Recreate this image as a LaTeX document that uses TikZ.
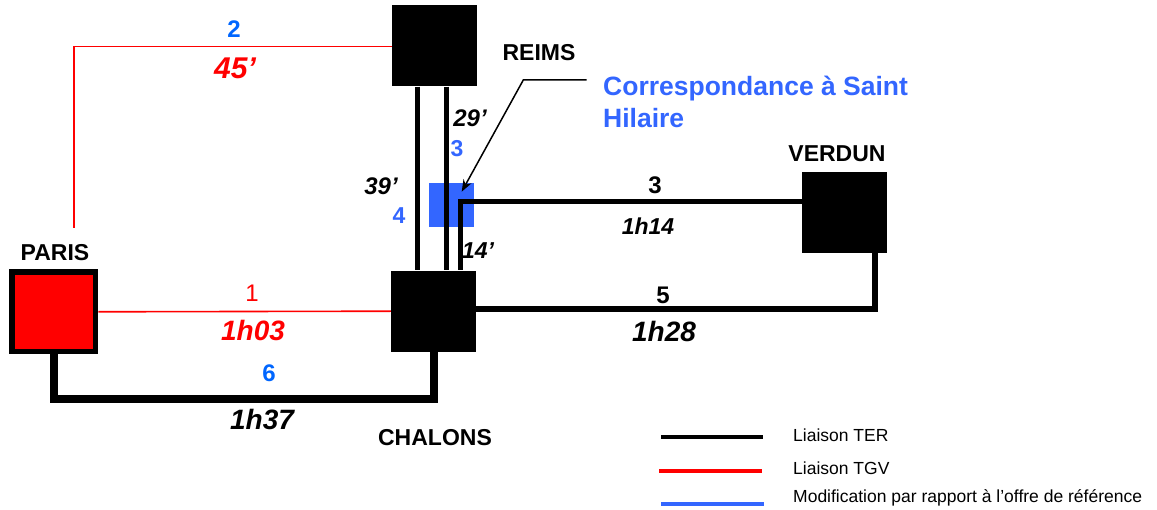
\documentclass[tikz,border=0pt]{standalone}
\usepackage{fontspec}
\setmainfont{Liberation Sans}
\usetikzlibrary{arrows.meta,backgrounds}
\definecolor{tgvred}{HTML}{FF0000}
\definecolor{modblue}{HTML}{3366FF}
\definecolor{numblue}{HTML}{0066FF}
\tikzset{
  city/.style={fill=black, inner sep=0pt, minimum width=85pt, minimum height=81pt},
  ter/.style={line width=5pt},
  terthick/.style={line width=8pt},
  tgv/.style={draw=tgvred, line width=1.6pt},
  lab/.style={anchor=base, inner sep=0pt},
  cityname/.style={lab, font=\bfseries\fontsize{23}{27}\selectfont},
  num/.style={lab, font=\bfseries\fontsize{24}{28}\selectfont},
  tim/.style={lab, font=\bfseries\itshape\fontsize{#1}{#1}\selectfont},
  leg/.style={anchor=base west, inner sep=0pt, font=\fontsize{17.5}{20}\selectfont},
  legline/.style={line width=4pt},
}
\begin{document}
\begin{tikzpicture}[x=1pt,y=-1pt]
\useasboundingbox (0,0) rectangle (1157,510);

% city boxes
\node[city] (reims) at (434.5,46) {};
\node[city] (chalons) at (433.5,311.2) {};
\node[city] (verdun) at (844.5,212.5) {};
\node[draw=black, fill=tgvred, line width=5.5pt, inner sep=0pt,
      minimum width=83.5pt, minimum height=79.5pt] (paris) at (53.8,311.8) {};

% helper coordinates
\coordinate (xa) at (417.7,0);
\coordinate (xb) at (446,0);
\coordinate (s3) at (460.7,202);
\coordinate (v5) at (875,309);
\coordinate (c6) at (433.5,399);
\coordinate (p2) at (74,228);

\begin{pgfonlayer}{background}
  \node[fill=modblue, inner sep=0pt, minimum width=45pt, minimum height=44pt] (sth) at (451.5,205) {};
  % TGV links
  \draw[tgv] (reims.west |- 0,46.7) -| (p2);
  \draw[tgv] (paris.east) -- (chalons.west);
  % TER links
  \draw[ter] (reims.south -| xa) -- (chalons.north -| xa);
  \draw[ter] (reims.south -| xb) -- (chalons.north -| xb);
  \draw[ter] (verdun.west |- s3) -| (chalons.north -| s3);
  \draw[ter, line width=5.5pt] (chalons.east |- v5) -| (verdun.south -| v5);
  \draw[terthick] (paris.south) |- (c6) -- (chalons.south);
\end{pgfonlayer}

% city names
\node[cityname] (nreims) at (539,60.2) {REIMS};
\node[cityname] (nverdun) at (837,161.2) {VERDUN};
\node[cityname] (nparis) at (55,260.2) {PARIS};
\node[cityname] (nchalons) at (435,445.2) {CHALONS};

% labels
\node[num, text=numblue] (l2) at (234,37.6) {2};
\node[tim=30, text=tgvred] (t2) at (235,78.7) {45’};
\node[tim=24] (t3a) at (470,126.6) {29’};
\node[num, text=modblue, font=\bfseries\fontsize{23}{27}\selectfont] (l3a) at (457,156.2) {3};
\node[tim=24] (t4) at (381,194.6) {39’};
\node[num, text=modblue, font=\bfseries\fontsize{23}{27}\selectfont] (l4) at (399,223.2) {4};
\node[tim=23] (t3c) at (478,258.2) {14’};
\node[num] (l3) at (655,193.6) {3};
\node[tim=23] (t3) at (648,234.2) {1h14};
\node[lab, text=tgvred, font=\fontsize{24}{28}\selectfont] (l1) at (252,301.6) {1};
\node[tim=28, text=tgvred] (t1) at (253,341) {1h03};
\node[num] (l5) at (663,303.6) {5};
\node[tim=28] (t5) at (664,342) {1h28};
\node[num, text=numblue] (l6) at (269,381.6) {6};
\node[tim=28] (t6) at (262,430) {1h37};

% callout
\node[anchor=base west, inner sep=0pt, align=left, text=modblue,
      font=\bfseries\fontsize{26.5}{32}\selectfont] (corr) at (603,127.7) {Correspondance à Saint\\Hilaire};
\coordinate (cA) at (586.7,80);
\coordinate (cB) at (523.3,80);
\coordinate (cT) at (461.7,191.7);
\draw[line width=1.5pt, -{Stealth[length=12pt,width=9pt]}] (cA) -- (cB) -- (cT);

% legend
\coordinate (la1) at (661,436.7); \coordinate (la2) at (763,436.7);
\coordinate (lb1) at (659,471);   \coordinate (lb2) at (762,471);
\coordinate (lc1) at (661,503.7); \coordinate (lc2) at (764,503.7);
\draw[legline, black] (la1) -- (la2);
\draw[legline, tgvred] (lb1) -- (lb2);
\draw[legline, modblue] (lc1) -- (lc2);
\node[leg] (lter) at (793,441.3) {Liaison TER};
\node[leg] (ltgv) at (793,474.3) {Liaison TGV};
\node[leg] (lmod) at (793,502.3) {Modification par rapport à l’offre de référence};
\end{tikzpicture}
\end{document}
